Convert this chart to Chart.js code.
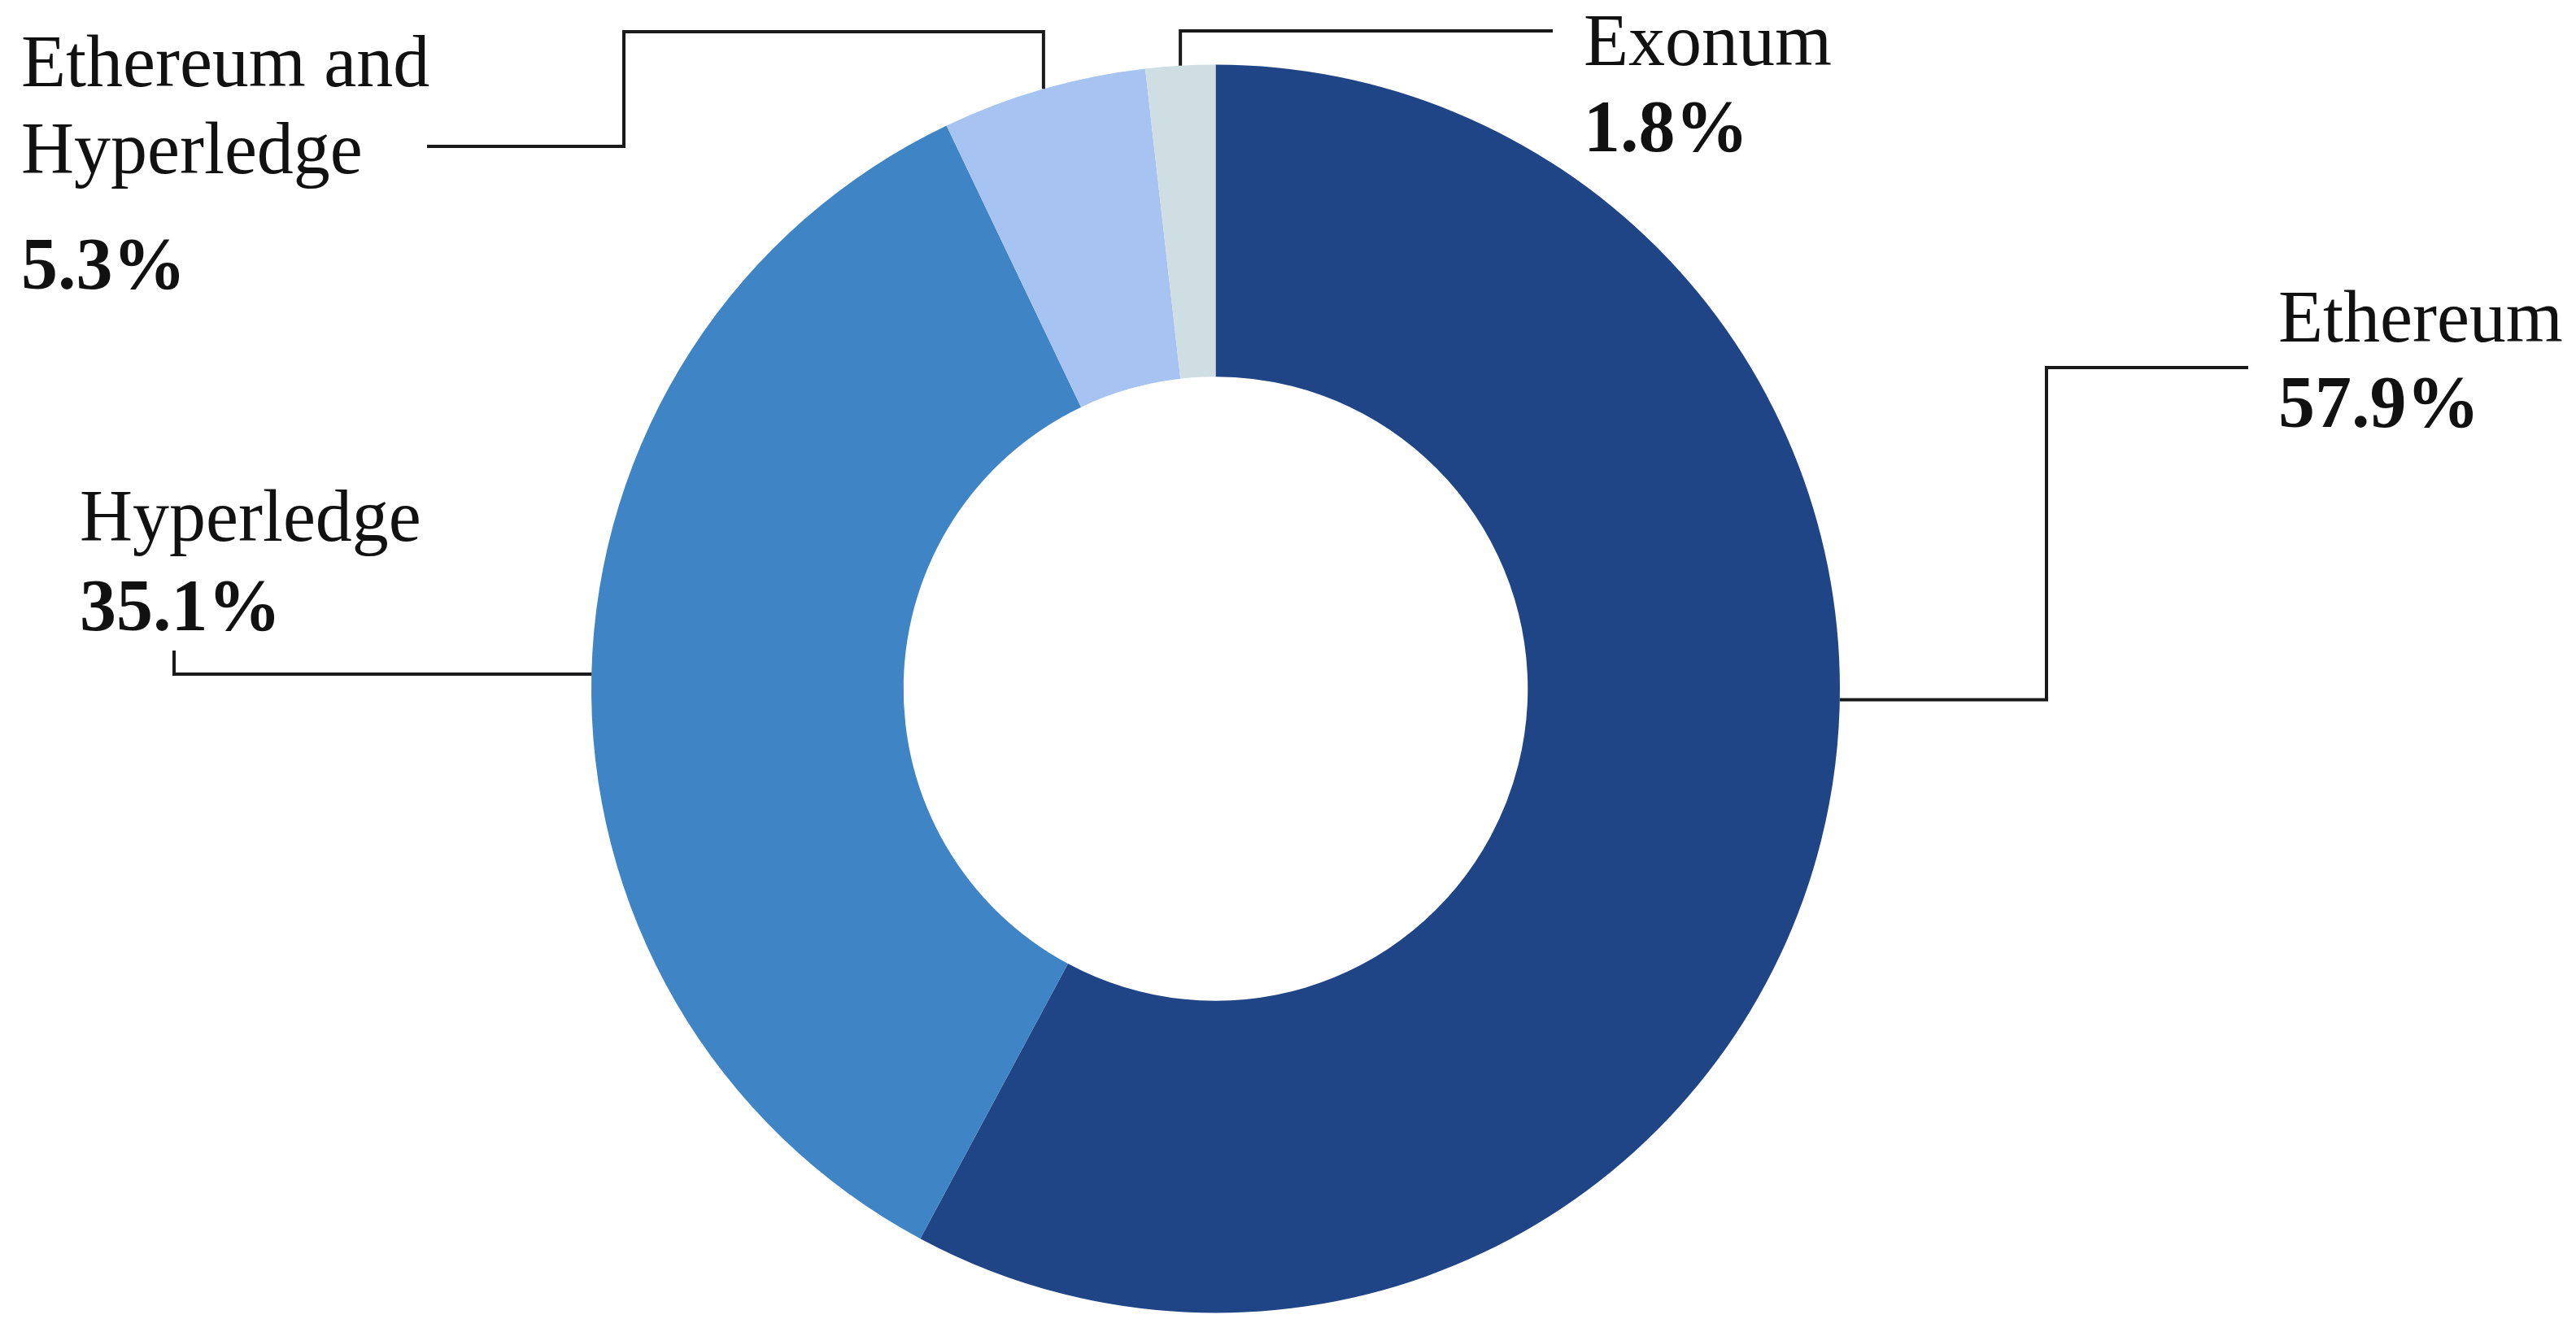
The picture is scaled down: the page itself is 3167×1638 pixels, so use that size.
<!DOCTYPE html>
<html>
<head>
<meta charset="utf-8">
<script src="https://cdn.jsdelivr.net/npm/chart.js@4.4.1/dist/chart.umd.min.js"></script>
<style>
  html, body { margin: 0; padding: 0; background: #fff; }
  #wrap { width: 3167px; height: 1638px; }
</style>
</head>
<body>
<div id="wrap"><canvas id="chart" width="3167" height="1638"></canvas></div>
<script>
// data, clockwise from 12 o'clock
const categories = ['Ethereum', 'Hyperledge', 'Ethereum and Hyperledge', 'Exonum'];
const shares = [57.9, 35.1, 5.3, 1.8];
const sliceColors = ['#1f4586', '#3f84c5', '#a7c3f1', '#cfdee2'];

// label text lines (name lines, then the bold percent)
const labelNames = [['Ethereum'], ['Hyperledge'], ['Ethereum and', 'Hyperledge'], ['Exonum']];
const labelPct = shares.map(v => v.toFixed(1) + '%');

// where each label sits and how its leader line bends
const labelLayout = [
    { x: 2801, base: [420], pctBase: 525, angle: 91, path: a => [[2516, a.y], [2516, 452], [2764, 452]] },
    { x: 98, base: [665], pctBase: 775, angle: null, path: a => [[214, a.y], [214, 800]] },
    { x: 26, base: [106, 213], pctBase: 355, angle: null, path: a => [[a.x, 39], [767, 39], [767, 180], [525, 180]] },
    { x: 1947, base: [80], pctBase: 186, angle: null, path: a => [[a.x, 38], [1909, 38]] }
];

const leaderLabels = {
    id: 'leaderLabels',
    afterDraw(chart) {
        const ctx = chart.ctx;
        const arcs = chart.getDatasetMeta(0).data;
        ctx.save();
        arcs.forEach((arc, i) => {
            const lay = labelLayout[i];
            let ang = (arc.startAngle + arc.endAngle) / 2;
            if (lay.angle !== null) ang = (lay.angle - 90) * Math.PI / 180;
            const a = { x: arc.x + Math.cos(ang) * arc.outerRadius, y: arc.y + Math.sin(ang) * arc.outerRadius };

            ctx.strokeStyle = '#1a1a1a';
            ctx.lineWidth = 4;
            ctx.lineJoin = 'miter';
            ctx.beginPath();
            ctx.moveTo(a.x, a.y);
            lay.path(a).forEach(p => ctx.lineTo(p[0], p[1]));
            ctx.stroke();

            ctx.fillStyle = '#111';
            ctx.textAlign = 'left';
            ctx.textBaseline = 'alphabetic';
            ctx.font = '90px "Liberation Serif", "Times New Roman", serif';
            labelNames[i].forEach((t, k) => ctx.fillText(t, lay.x, lay.base[k]));
            ctx.font = 'bold 90px "Liberation Serif", "Times New Roman", serif';
            ctx.fillText(labelPct[i], lay.x, lay.pctBase);
        });
        ctx.restore();
    }
};

new Chart(document.getElementById('chart'), {
    type: 'doughnut',
    data: {
        labels: categories,
        datasets: [{
            data: shares,
            backgroundColor: sliceColors,
            borderWidth: 0
        }]
    },
    options: {
        responsive: false,
        animation: false,
        devicePixelRatio: 1,
        cutout: '50%',
        layout: { padding: { left: 727, right: 905, top: 79, bottom: 23 } },
        plugins: {
            legend: { display: false },
            tooltip: { enabled: false }
        }
    },
    plugins: [leaderLabels]
});
</script>
</body>
</html>
